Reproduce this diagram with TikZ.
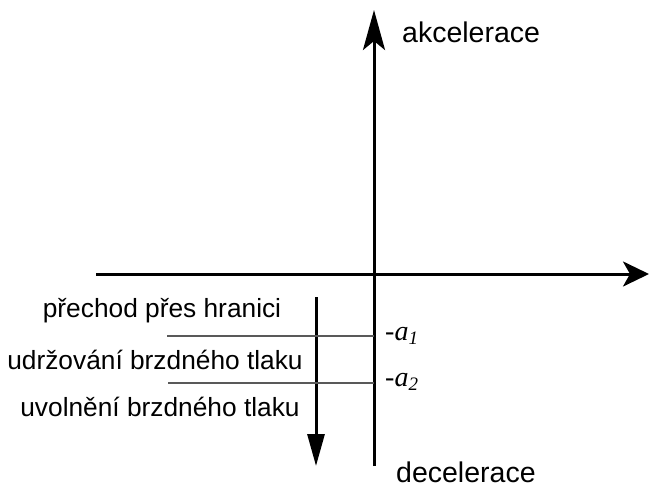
\documentclass[tikz,border=0pt]{standalone}
\usepackage{fontspec}
\setmainfont{Liberation Sans}
\newfontfamily\serifit{Liberation Serif}
\usetikzlibrary{arrows.meta}
\begin{document}
\begin{tikzpicture}[x=1pt,y=-1pt,
  axis/.style={line width=3pt},
  thin/.style={line width=1.2pt, draw=black!65},
  lbl/.style={font=\fontsize{26.3}{30}\selectfont, inner sep=0pt},
  axlbl/.style={font=\fontsize{28.5}{30}\selectfont, inner sep=0pt, anchor=west},
  alab/.style={font=\fontsize{28}{30}\serifit\itshape, inner sep=0pt, anchor=west}]
\useasboundingbox (0,0) rectangle (652,488);
\coordinate (vb) at (374,466);
\coordinate (vt) at (374,10);
\coordinate (hl) at (96,274);
\coordinate (hr) at (649,274);
\coordinate (sa) at (316,297);
\coordinate (se) at (316,466);
\coordinate (l1) at (167,336);
\coordinate (r1) at (374,336);
\coordinate (l2) at (168,383);
\coordinate (r2) at (374,383);
\draw[axis,-{Stealth[length=40pt,width=22pt,inset=9pt]}] (vb) -- (vt);
\draw[axis,-{Stealth[length=26pt,width=25pt,inset=7pt]}] (hl) -- (hr);
\draw[axis,-{Triangle[length=32pt,width=17pt]}] (sa) -- (se);
\draw[thin] (l1) -- (r1);
\draw[thin] (l2) -- (r2);
\node[axlbl] (ak) at (402,32) {akcelerace};
\node[axlbl] (de) at (396,472) {decelerace};
\node[lbl] (t1) at (162,311) {přechod přes hranici};
\node[lbl] (t2) at (155,360) {udržování brzdného tlaku};
\node[lbl] (t3) at (160,407) {uvolnění brzdného tlaku};
\node[alab] (a1) at (385,336) {-a\raisebox{-0.15em}{\fontsize{19}{20}\selectfont 1}};
\node[alab] (a2) at (385,382) {-a\raisebox{-0.15em}{\fontsize{19}{20}\selectfont 2}};
\end{tikzpicture}
\end{document}
